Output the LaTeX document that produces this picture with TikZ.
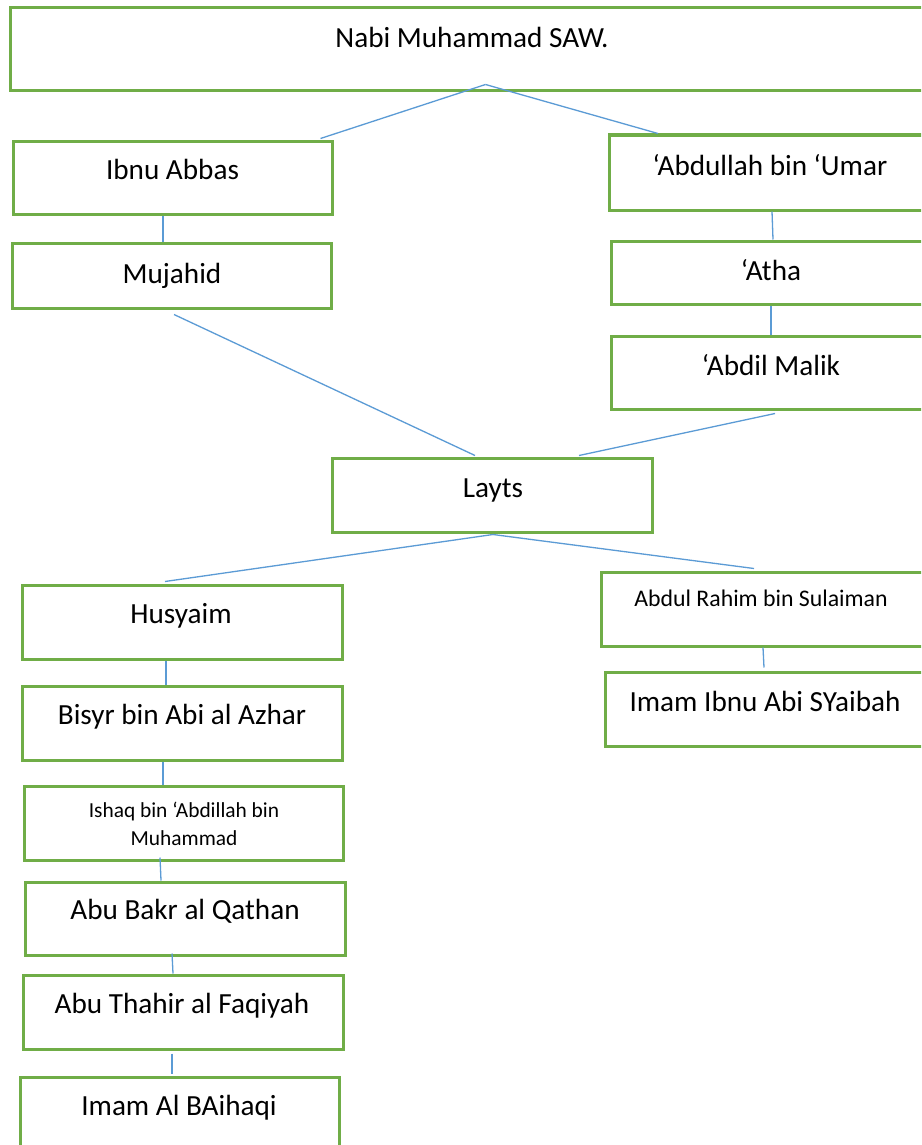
\documentclass[tikz,border=0pt]{standalone}
\usepackage{fontspec}
\setmainfont{Carlito}
\usetikzlibrary{calc}
\definecolor{boxgreen}{HTML}{70AD47}
\definecolor{lineblue}{HTML}{5B9BD5}
\tikzset{
  box/.style={draw=boxgreen, line width=3pt, fill=white, rectangle, inner sep=0pt},
  conn/.style={draw=lineblue, line width=1.3pt},
  lbl/.style={anchor=base, inner sep=0pt, font=\fontsize{29.2}{35}\selectfont},
  slbl/.style={anchor=base, inner sep=0pt, font=\fontsize{23.8}{28}\selectfont},
  xlbl/.style={anchor=base, inner sep=0pt, font=\fontsize{21.4}{28}\selectfont}
}
\begin{document}
\begin{tikzpicture}[x=1pt,y=-1pt]
\clip (0,0) rectangle (921,1145);
\fill[white] (0,0) rectangle (921,1145);
% boxes
\node[box, minimum width=924pt, minimum height=83pt] (nabi) at (472,49.5) {};
\node[box, minimum width=319pt, minimum height=73pt] (ibnu) at (172.5,177.5) {};
\node[box, minimum width=321pt, minimum height=75pt] (abdullah) at (769.5,172.5) {};
\node[box, minimum width=319pt, minimum height=65pt] (mujahid) at (171.5,275.5) {};
\node[box, minimum width=319pt, minimum height=63pt] (atha) at (770.5,272.5) {};
\node[box, minimum width=319pt, minimum height=73pt] (abdil) at (770.5,372.5) {};
\node[box, minimum width=320pt, minimum height=74pt] (layts) at (492,495) {};
\node[box, minimum width=320pt, minimum height=74pt] (husyaim) at (182,622) {};
\node[box, minimum width=324pt, minimum height=74pt] (rahim) at (763,609) {};
\node[box, minimum width=320pt, minimum height=74pt] (syaibah) at (765,709) {};
\node[box, minimum width=320pt, minimum height=74pt] (bisyr) at (182,723) {};
\node[box, minimum width=319pt, minimum height=74pt] (ishaq) at (183.5,823) {};
\node[box, minimum width=320pt, minimum height=73pt] (abubakr) at (185,918.5) {};
\node[box, minimum width=320pt, minimum height=74pt] (abuthahir) at (183,1012) {};
\node[box, minimum width=319pt, minimum height=75pt] (baihaqi) at (179.5,1114.5) {};
% labels
\node[lbl] (tnabi) at (472,48) {Nabi Muhammad SAW.};
\node[lbl] (tibnu) at (172.5,179) {Ibnu Abbas};
\node[lbl] (tabdullah) at (770,175) {‘Abdullah bin ‘Umar};
\node[lbl] (tmujahid) at (172,283) {Mujahid};
\node[lbl] (tatha) at (771,280) {‘Atha};
\node[lbl] (tabdil) at (771,375) {‘Abdil Malik};
\node[lbl] (tlayts) at (493,497) {Layts};
\node[lbl] (thusyaim) at (181,623) {Husyaim};
\node[slbl] (trahim) at (761,606) {Abdul Rahim bin Sulaiman};
\node[lbl] (tsyaibah) at (765,711) {Imam Ibnu Abi SYaibah};
\node[lbl] (tbisyr) at (182,724) {Bisyr bin Abi al Azhar};
\node[xlbl] (tishaq1) at (184,817) {Ishaq bin ‘Abdillah bin};
\node[xlbl] (tishaq2) at (184,845) {Muhammad};
\node[lbl] (tabubakr) at (185,919) {Abu Bakr al Qathan};
\node[lbl] (tabuthahir) at (182,1013) {Abu Thahir al Faqiyah};
\node[lbl] (tbaihaqi) at (179,1115) {Imam Al BAihaqi};
% connectors
\coordinate (nabiout) at ($(nabi.south)+(13.5,-8)$);
\draw[conn] (nabiout) -- ($(ibnu.north)+(148,-1)$);
\draw[conn] (nabiout) -- ($(abdullah.north)+(-111.5,0)$);
\draw[conn] ($(ibnu.south)+(-9.5,0)$) -- ($(mujahid.north)+(-8.5,0)$);
\draw[conn] ($(abdullah.south)+(2.5,0)$) -- ($(atha.north)+(2.5,0)$);
\draw[conn] ($(atha.south)+(0.5,0)$) -- ($(abdil.north)+(0.5,0)$);
\draw[conn] ($(mujahid.south)+(2.5,5)$) -- ($(layts.north)+(-17,-1)$);
\draw[conn] ($(abdil.south)+(4.5,3)$) -- ($(layts.north)+(87,-1)$);
\coordinate (laytsout) at ($(layts.south)+(1,1)$);
\draw[conn] (laytsout) -- ($(husyaim.north)+(-17,-2)$);
\draw[conn] (laytsout) -- ($(rahim.north)+(-9,-2)$);
\draw[conn] ($(husyaim.south)+(-16,0)$) -- ($(bisyr.north)+(-16,0)$);
\draw[conn] ($(rahim.south)+(0,0)$) -- ($(syaibah.north)+(-1,-3)$);
\draw[conn] ($(bisyr.south)+(-19,0)$) -- ($(ishaq.north)+(-20.5,0)$);
\draw[conn] ($(ishaq.south)+(-23.5,-4)$) -- ($(abubakr.north)+(-24,0)$);
\draw[conn] ($(abubakr.south)+(-13,-3)$) -- ($(abuthahir.north)+(-10,0)$);
\draw[conn] ($(abuthahir.south)+(-11,3)$) -- ($(baihaqi.north)+(-7.5,-2)$);
\end{tikzpicture}
\end{document}
